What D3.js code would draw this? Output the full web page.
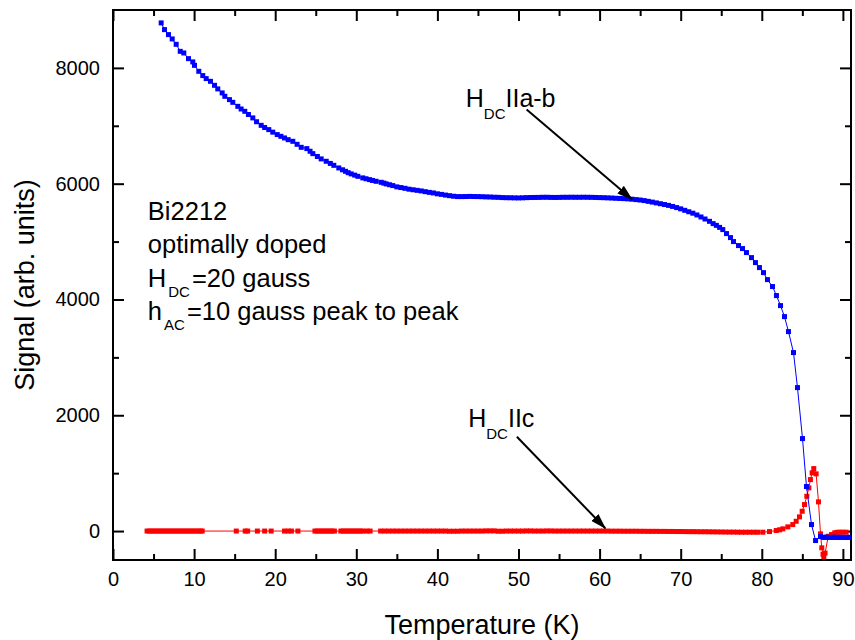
<!DOCTYPE html>
<html><head><meta charset="utf-8">
<script src="https://cdn.jsdelivr.net/npm/d3@7/dist/d3.min.js"></script>
<style>body{margin:0;background:#fff} text{font-family:"Liberation Sans",Arial,Helvetica,sans-serif}</style>
</head><body>
<svg id="chart" width="855" height="640"></svg>
<script>
// ---------- data ----------
const xMajorTicks = [0,10,20,30,40,50,60,70,80,90];
const xMinorTicks = [5,15,25,35,45,55,65,75,85];
const yMajorTicks = [0,2000,4000,6000,8000];
const yMinorTicks = [1000,3000,5000,7000];

// H_DC || a-b  (blue)
const blueSeries = [
 [5.94,8777],[6.35,8661],[6.84,8575],[7.30,8500],[7.79,8407],[8.29,8286],[8.73,8258],[9.31,8160],
 [9.84,8103],[10.05,8044],[10.58,7941],[11.07,7867],[11.49,7815],[12.02,7768],[12.52,7699],[12.92,7637],
 [13.46,7568],[13.79,7509],[14.36,7452],[14.77,7405],[15.39,7336],[15.8,7290],[16.25,7250],[16.7,7195],
 [17.24,7136],[17.7,7070],[18.27,7008],[18.7,6970],[19.21,6934],[19.7,6890],[20.25,6848],[20.7,6818],
 [21.15,6790],[21.6,6760],[22.17,6732],[22.7,6680],[23.21,6628],[23.90,6606],[24.3,6560],[24.64,6519],
 [25.2,6470],[25.67,6428],[26.29,6387],[26.8,6350],[27.23,6317],[27.84,6272],[28.3,6240],[28.67,6214],
 [29.0,6190],[29.37,6169],[29.8,6148],[30.19,6127],[30.80,6100],[31.2,6085],[31.63,6070],[32.0,6056],
 [32.45,6041],[33.07,6024],[33.4,6010],[33.69,5996],[34.1,5982],[34.50,5967],[35.0,5945],[35.5,5933],
 [36.0,5920],[36.5,5905],[37.0,5895],[37.5,5885],[38.0,5875],[38.5,5862],[39.0,5850],[39.5,5840],
 [40.0,5825],[40.5,5815],[41.0,5803],[41.5,5793],[42.0,5783],[42.5,5777],[43.0,5777],[43.5,5778],
 [44.0,5780],[44.5,5778],[45.0,5777],[45.5,5775],[46.0,5772],[46.5,5770],[47.0,5766],[47.5,5764],
 [48.0,5760],[48.5,5758],[49.0,5757],[49.5,5755],[50.0,5754],[50.5,5756],[51.0,5759],[51.5,5761],
 [52.0,5762],[52.5,5763],[53.0,5765],[53.5,5765],[54.0,5763],[54.5,5762],[55.0,5763],[55.5,5765],
 [56.0,5765],[56.5,5766],[57.0,5765],[57.5,5765],[58.0,5766],[58.5,5765],[59.0,5764],[59.5,5762],
 [60.0,5760],[60.5,5758],[61.0,5755],[61.5,5752],[62.0,5748],[62.5,5745],[63.0,5742],[63.5,5738],
 [64.0,5732],[64.5,5725],[65.0,5718],[65.5,5708],[66.0,5695],[66.5,5682],[67.0,5668],[67.5,5654],
 [68.0,5640],[68.5,5625],[69.0,5607],[69.5,5587],[70.0,5565],[70.5,5540],[71.0,5515],[71.5,5490],
 [72.0,5460],[72.5,5425],[73.0,5390],[73.55,5350],[74.0,5310],[74.4,5280],[74.8,5245],[75.19,5207],
 [75.65,5138],[76.14,5069],[76.51,5000],[77.13,4931],[77.62,4879],[78.11,4810],[78.73,4723],[79.22,4637],
 [79.71,4551],[80.21,4464],[80.70,4343],[81.32,4223],[81.81,4067],[82.31,3894],[82.80,3704],[83.29,3445],
 [83.91,3083],[84.40,2478],[85.02,1597],[85.51,769],[86.13,112],[86.63,-164],[87.24,-95],[87.6,-110],
 [87.9,-105],[88.2,-110],[88.5,-110],[88.8,-105],[89.1,-110],[89.4,-110],[89.7,-108],[90.0,-110],
 [90.3,-110],[90.6,-110],[90.8,-108]
];

// H_DC || c  (red)
const redSeries = [
 [4.2,0],[4.5,0],[4.8,0],[5.1,0],[5.4,0],[5.7,0],[6.0,0],[6.3,0],[6.6,0],[6.9,0],[7.2,0],[7.5,0],
 [7.8,0],[8.1,0],[8.4,0],[8.7,0],[9.0,0],[9.3,0],[9.6,0],[9.9,0],[10.2,0],[10.5,0],[10.8,0],[11.0,0],
 [15.2,0],[16.3,0],[16.6,0],[17.8,0],[18.7,0],[19.5,0],[21.15,0],[21.6,0],[22.0,0],[22.8,0],
 [24.9,0],[25.2,0],[25.5,0],[25.8,0],[26.1,0],[26.4,0],[26.7,0],[27.0,0],[27.3,0],
 [28.1,0],[28.4,0],[28.7,0],[29.0,0],[29.3,0],[29.6,0],[29.9,0],[30.2,0],[30.5,0],[30.8,0],
 [31.3,0],[31.7,0],[33.0,0],[33.5,0],[34.0,0],[34.5,0],[35.0,0],[35.5,0],[36.0,0],[36.5,0],
 [37.0,0],[37.5,0],[38.0,0],[38.5,0],[39.0,0],[39.5,0],[40.0,0],[40.5,0],[41.0,0],[41.5,-3],
 [42.0,-3],[42.5,-3],[43.0,0],[43.5,0],[44.0,0],[44.5,0],[45.0,0],[45.5,0],[46.0,3],[46.5,3],
 [47.0,3],[47.5,-3],[48.0,-3],[48.5,0],[49.0,0],[49.5,0],[50.0,0],[50.5,0],[51.0,2],[51.5,2],
 [52.0,0],[52.5,0],[53.0,0],[53.5,2],[54.0,2],[54.5,0],[55.0,0],[55.5,0],[56.0,0],[56.5,0],
 [57.0,0],[57.5,0],[58.0,0],[58.5,0],[59.0,0],[59.5,0],[60.0,0],[60.5,0],[61.0,0],[61.5,-2],
 [62.0,-2],[62.5,-2],[63.0,-3],[63.5,-3],[64.0,-3],[64.5,-3],[65.0,-4],[65.5,-4],[66.0,-5],[66.5,-5],
 [67.0,-5],[67.5,-6],[68.0,-6],[68.5,-7],[69.0,-7],[69.5,-8],[70.0,-8],[70.5,-9],[71.0,-10],[71.5,-10],
 [72.0,-11],[72.5,-12],[73.0,-12],[73.5,-13],[74.0,-14],[74.5,-15],[75.0,-16],[75.5,-17],[76.0,-18],[76.5,-18],
 [77.0,-19],[77.5,-20],[78.0,-20],[78.5,-20],[79.0,-20],[79.5,-20],[80.13,-20],[80.95,-9],[81.78,9],[82.2,22],
 [82.59,38],[83.21,72],[83.82,112],[84.24,169],[84.65,245],[84.98,342],[85.27,458],[85.55,601],[85.80,746],
 [86.0,889],[86.21,1005],[86.41,1079],[86.70,988],[86.99,504],[87.24,-48],[87.40,-290],[87.55,-400],[87.65,-440],
 [87.8,-380],[88.2,-90],[88.6,-60],[89.0,-30],[89.3,-22],[89.6,-20],[90.0,-20],[90.4,-20]
];

const infoLines = [
  [["Bi2212",""]],
  [["optimally doped",""]],
  [["H",""],["DC","sub"],["=20 gauss",""]],
  [["h",""],["AC","sub"],["=10 gauss peak to peak",""]]
];
const labelAB = [["H",""],["DC","sub"],["IIa-b",""]];
const labelC  = [["H",""],["DC","sub"],["IIc",""]];
// annotation anchors in data units: label position, arrow start, arrow tip
const annotAB = {label:[43.5,7324], from:[51.0,7280], to:[64.0,5730]};
const annotC  = {label:[43.8,1797], from:[49.8,1630], to:[60.7,48]};
const infoAnchor = [4.3,5373];
const xTitle = "Temperature (K)";
const yTitle = "Signal (arb. units)";

// ---------- layout ----------
const W = 855, H = 640;
const L = 113, R = 851, T = 10, B = 560;
const svg = d3.select("#chart");
const x = d3.scaleLinear().domain([0,91]).range([L,R]);
const y = d3.scaleLinear().domain([-500,9000]).range([B,T]);
const FONT = '"Liberation Sans",Arial,sans-serif';

svg.append("rect").attr("width",W).attr("height",H).attr("fill","#fff");

// defs
const defs = svg.append("defs");
defs.append("clipPath").attr("id","clip").append("rect")
  .attr("x",L).attr("y",T).attr("width",R-L).attr("height",B-T);
defs.append("marker").attr("id","arrow").attr("markerUnits","userSpaceOnUse")
  .attr("markerWidth",16).attr("markerHeight",10).attr("refX",15).attr("refY",5)
  .attr("orient","auto")
  .append("path").attr("d","M0,0 L16,5 L0,10 Z").attr("fill","#000");

// axes
function styleAxis(g){ g.select(".domain").remove(); g.selectAll("line").attr("stroke","#000").attr("stroke-width",2); g.selectAll("text").attr("font-family",FONT).attr("font-size",20).attr("fill","#000"); }
svg.append("g").attr("transform",`translate(0,${B})`)
  .call(d3.axisBottom(x).tickValues(xMajorTicks).tickSize(-11).tickPadding(12).tickFormat(d3.format("d"))).call(styleAxis);
svg.append("g").attr("transform",`translate(0,${B})`)
  .call(d3.axisBottom(x).tickValues(xMinorTicks).tickSize(-6).tickFormat("")).call(styleAxis);
svg.append("g").attr("transform",`translate(0,${T})`)
  .call(d3.axisTop(x).tickValues(xMajorTicks).tickSize(-11).tickFormat("")).call(styleAxis);
svg.append("g").attr("transform",`translate(0,${T})`)
  .call(d3.axisTop(x).tickValues(xMinorTicks).tickSize(-6).tickFormat("")).call(styleAxis);
svg.append("g").attr("transform",`translate(${L},0)`)
  .call(d3.axisLeft(y).tickValues(yMajorTicks).tickSize(-11).tickPadding(13).tickFormat(d3.format("d"))).call(styleAxis);
svg.append("g").attr("transform",`translate(${L},0)`)
  .call(d3.axisLeft(y).tickValues(yMinorTicks).tickSize(-6).tickFormat("")).call(styleAxis);
svg.append("g").attr("transform",`translate(${R},0)`)
  .call(d3.axisRight(y).tickValues(yMajorTicks).tickSize(-11).tickFormat("")).call(styleAxis);
svg.append("g").attr("transform",`translate(${R},0)`)
  .call(d3.axisRight(y).tickValues(yMinorTicks).tickSize(-6).tickFormat("")).call(styleAxis);

// frame
svg.append("rect").attr("x",L).attr("y",T).attr("width",R-L).attr("height",B-T)
  .attr("fill","none").attr("stroke","#000").attr("stroke-width",2);

// titles
svg.append("text").attr("x",(L+R)/2).attr("y",634).attr("text-anchor","middle")
  .attr("font-family",FONT).attr("font-size",27).text(xTitle);
svg.append("text").attr("transform",`translate(34,${(T+B)/2}) rotate(-90)`).attr("text-anchor","middle")
  .attr("font-family",FONT).attr("font-size",27).text(yTitle);

// series
const plot = svg.append("g").attr("clip-path","url(#clip)");
const line = d3.line().x(d=>x(d[0])).y(d=>y(d[1]));
function drawSeries(data,color){
  plot.append("path").datum(data).attr("d",line).attr("fill","none").attr("stroke",color).attr("stroke-width",1);
  plot.append("g").selectAll("rect").data(data).join("rect")
    .attr("x",d=>x(d[0])-2.5).attr("y",d=>y(d[1])-2.5).attr("width",5).attr("height",5).attr("fill",color);
}
drawSeries(redSeries,"#ff0000");
drawSeries(blueSeries,"#0000ff");

// rich text helper
function richText(g, px, py, segs, size, subSize, subShift, gap){
  const t = g.append("text").attr("x",px).attr("y",py).attr("font-family",FONT).attr("font-size",size).attr("fill","#000");
  let inSub = false;
  segs.forEach(([s,k])=>{
    const ts = t.append("tspan").text(s);
    if(k==="sub"){ ts.attr("font-size",subSize).attr("dy",subShift).attr("dx",gap); inSub=true; }
    else if(inSub){ ts.attr("dy",-subShift).attr("dx",gap); inSub=false; }
  });
  return t;
}
// info block
infoLines.forEach((segs,i)=>{
  richText(svg, x(infoAnchor[0]), y(infoAnchor[1]) + i*33.5, segs, 25.5, 15, 10, 2);
});
// annotations
[[annotAB,labelAB],[annotC,labelC]].forEach(([a,lab])=>{
  richText(svg, x(a.label[0]), y(a.label[1]), lab, 25, 15, 12, 0);
  svg.append("line").attr("x1",x(a.from[0])).attr("y1",y(a.from[1]))
    .attr("x2",x(a.to[0])).attr("y2",y(a.to[1]))
    .attr("stroke","#000").attr("stroke-width",2).attr("marker-end","url(#arrow)");
});
</script>
</body></html>
